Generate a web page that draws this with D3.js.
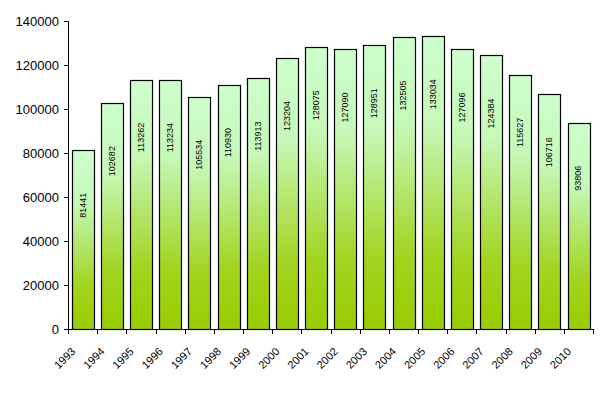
<!DOCTYPE html>
<html>
<head>
<meta charset="utf-8">
<script src="https://cdn.jsdelivr.net/npm/d3@7"></script>
<style>
  body { margin: 0; background: #fff; }
  text { font-family: "Liberation Sans", Arial, sans-serif; }
</style>
</head>
<body>
<div class="canvas"></div>
<script>
// data
const years = ['1993','1994','1995','1996','1997','1998','1999','2000','2001',
  '2002','2003','2004','2005','2006','2007','2008','2009','2010'];
const values = [81441, 102682, 113262, 113234, 105534, 110930, 113913, 123204, 128075,
  127090, 128951, 132505, 133034, 127096, 124384, 115627, 106716, 93806];
const yTicks = [0, 20000, 40000, 60000, 80000, 100000, 120000, 140000];

const width = 607;
const height = 396;
const margin = {top: 21, right: 14, bottom: 67, left: 68};
const graphWidth = width - margin.left - margin.right;
const graphHeight = height - margin.top - margin.bottom;

const svg = d3.select('.canvas')
  .append('svg')
  .attr('width', width)
  .attr('height', height);

const grad = svg.append('defs').append('linearGradient')
  .attr('id', 'barFill')
  .attr('x1', 0).attr('y1', 0).attr('x2', 0).attr('y2', 1);
grad.append('stop').attr('offset', 0).attr('stop-color', '#ccffcc');
grad.append('stop').attr('offset', 0.3).attr('stop-color', '#c6f8b8');
grad.append('stop').attr('offset', 0.75).attr('stop-color', '#a2d420');
grad.append('stop').attr('offset', 1).attr('stop-color', '#99cc00');

const graph = svg.append('g')
  .attr('transform', `translate(${margin.left}, ${margin.top})`);

const y = d3.scaleLinear()
  .domain([0, 140000])
  .range([graphHeight, 0]);

const x = d3.scaleBand()
  .domain(years)
  .range([0, graphWidth])
  .paddingInner(0.26)
  .paddingOuter(0.13);

// bars
graph.selectAll('rect.bar')
  .data(values)
  .enter()
  .append('rect')
  .attr('class', 'bar')
  .attr('x', (d, i) => Math.round(x(years[i])) + 0.5)
  .attr('y', d => Math.round(y(d)) + 0.5)
  .attr('width', Math.round(x.bandwidth()))
  .attr('height', d => graphHeight - Math.round(y(d)))
  .attr('fill', 'url(#barFill)')
  .attr('stroke', '#000')
  .attr('stroke-width', 1.2);

// value labels, rotated inside the bars
graph.selectAll('text.val')
  .data(values)
  .enter()
  .append('text')
  .attr('class', 'val')
  .attr('transform', (d, i) =>
    `translate(${x(years[i]) + x.bandwidth() / 2 + 3}, ${y(d) + 43}) rotate(-90)`)
  .attr('text-anchor', 'end')
  .style('font-size', '9px')
  .text(d => d);

// axes
const yAxis = d3.axisLeft(y)
  .tickValues(yTicks)
  .tickSize(4)
  .tickPadding(5)
  .tickFormat(d => d);
const gYAxis = graph.append('g').call(yAxis);
gYAxis.select('.domain').attr('d', `M-4,0.5H0.5V${graphHeight + 4}`);
gYAxis.selectAll('text').style('font-size', '13px');

const xAxis = d3.axisBottom(x)
  .tickSize(0)
  .tickFormat('');
const gXAxis = graph.append('g')
  .attr('transform', `translate(0, ${graphHeight})`)
  .call(xAxis);
gXAxis.select('.domain').attr('d', `M0,0.5H${graphWidth}`);

// tick marks at band boundaries
gXAxis.selectAll('line.sep')
  .data(d3.range(years.length + 1))
  .enter()
  .append('line')
  .attr('class', 'sep')
  .attr('x1', i => Math.round(i * x.step()) + 0.5)
  .attr('x2', i => Math.round(i * x.step()) + 0.5)
  .attr('y1', 0)
  .attr('y2', 5)
  .attr('stroke', '#000');

// year labels, slanted
gXAxis.selectAll('text.yr')
  .data(years)
  .enter()
  .append('text')
  .attr('class', 'yr')
  .attr('transform', d =>
    `translate(${x(d) + x.bandwidth() / 2 - 18}, 29) rotate(-45)`)
  .attr('text-anchor', 'middle')
  .attr('dominant-baseline', 'central')
  .attr('fill', '#000')
  .style('font-size', '11px')
  .text(d => d);
</script>
</body>
</html>
